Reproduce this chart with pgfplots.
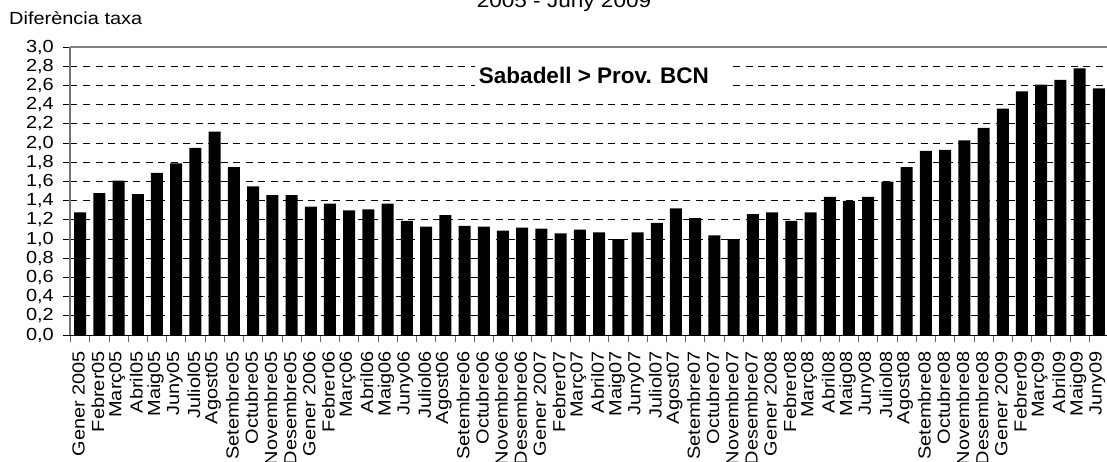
\documentclass[border=0pt]{standalone}
\usepackage{pgfplots}
\pgfplotsset{compat=1.18}
\usepackage{fontspec}
\setmainfont{Liberation Sans}[FakeStretch=1.14]
\newfontfamily\boldlab{Liberation Sans}
\newcommand\labfont{\fontsize{17.5}{20}\selectfont}

\pgfplotstableread{
x y
0 1.28
1 1.48
2 1.61
3 1.47
4 1.69
5 1.79
6 1.95
7 2.12
8 1.75
9 1.55
10 1.46
11 1.46
12 1.34
13 1.37
14 1.30
15 1.31
16 1.37
17 1.19
18 1.13
19 1.25
20 1.14
21 1.13
22 1.09
23 1.12
24 1.11
25 1.06
26 1.10
27 1.07
28 1.00
29 1.07
30 1.17
31 1.32
32 1.22
33 1.04
34 1.00
35 1.26
36 1.28
37 1.19
38 1.28
39 1.44
40 1.40
41 1.44
42 1.60
43 1.75
44 1.92
45 1.93
46 2.03
47 2.16
48 2.36
49 2.54
50 2.61
51 2.66
52 2.78
53 2.57
}\taxa

\begin{document}
\begin{tikzpicture}
% image frame: 1px = 1pt, axis origin at (0,0)
\path[use as bounding box, clip] (-70.5pt,-126.8pt) rectangle (1036.5pt,335.2pt);
\begin{axis}[
    at={(0pt,0pt)}, anchor=south west,
    scale only axis,
    width=1038pt, height=288pt,
    ybar, bar width=12pt,
    xmin=-0.5, xmax=53.5,
    ymin=0, ymax=3,
    enlarge x limits=false,
    axis line style={draw=none},
    xtick pos=bottom, ytick pos=left,
    tick align=outside,
    major tick length=7pt,
    minor tick length=7pt,
    ytick={0,0.2,...,3.01},
    xtick={0,...,53},
    minor xtick={-0.5,0.5,...,53.6},
    major x tick style={draw=none},
    minor x tick style={draw=black!60, line width=0.8pt},
    ytick style={draw=black, line width=1pt},
    xticklabels={Gener 2005,Febrer05,Març05,Abril05,Maig05,Juny05,Juliol05,Agost05,Setembre05,Octubre05,Novembre05,Desembre05,
      Gener 2006,Febrer06,Març06,Abril06,Maig06,Juny06,Juliol06,Agost06,Setembre06,Octubre06,Novembre06,Desembre06,
      Gener 2007,Febrer07,Març07,Abril07,Maig07,Juny07,Juliol07,Agost07,Setembre07,Octubre07,Novembre07,Desembre07,
      Gener 2008,Febrer08,Març08,Abril08,Maig08,Juny08,Juliol08,Agost08,Setembre08,Octubre08,Novembre08,Desembre08,
      Gener 2009,Febrer09,Març09,Abril09,Maig09,Juny09},
    % rotated frame: local x points up, local y points left
    xticklabel style={font=\labfont, rotate=90, anchor=east, inner sep=0pt, xshift=-8.7pt, yshift=1.5pt},
    yticklabel style={font=\labfont, anchor=east, inner sep=0pt, xshift=-9.5pt},
    yticklabel={\pgfmathprintnumber[fixed, fixed zerofill, precision=1, use comma, assume math mode=true]{\tick}},
    ymajorgrids,
    major grid style={black, line width=1pt, dash pattern=on 7pt off 5.5pt},
    clip=false,
]
\addplot[fill=black, draw=none] table[x=x, y=y] {\taxa};
\draw[black!50, line width=2pt] (rel axis cs:0,1) -- (rel axis cs:1,1);
\draw[black!55, line width=2pt] (rel axis cs:0,0) -- (rel axis cs:0,1);
\draw[black, line width=1pt] (rel axis cs:0,0) -- (rel axis cs:1,0);
\fill[white] (axis cs:20.54,2.50) rectangle (axis cs:33.9,2.90);
\node[inner sep=0pt] at (axis cs:26.73,2.71)
  {\boldlab\bfseries\fontsize{22.5}{25}\selectfont Sabadell > Prov. BCN};
\end{axis}
\node[anchor=base, inner sep=0pt] at (493.5pt,327.2pt) {\fontsize{19.8}{22}\selectfont 2005 - Juny 2009};
\node[anchor=base west, inner sep=0pt] at (-61.5pt,310.2pt) {\fontsize{17.5}{20}\selectfont Diferència taxa};
\end{tikzpicture}
\end{document}
